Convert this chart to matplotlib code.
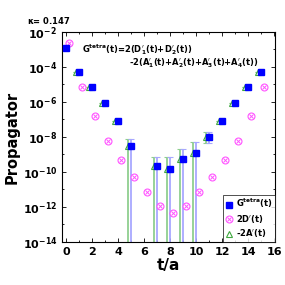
import numpy as np
import matplotlib
matplotlib.use('Agg')
import matplotlib.pyplot as plt
from matplotlib.lines import Line2D

plt.rcParams['font.family'] = 'DejaVu Sans'
plt.rcParams['font.weight'] = 'bold'
plt.rcParams['mathtext.fontset'] = 'dejavusans'
plt.rcParams['mathtext.default'] = 'bf'

# data
t = np.arange(16)
G = np.array([1.23e-3, 5.4e-5, 6.9e-6, 8.5e-7, 8.5e-8, 3.2e-9, np.nan, 2.3e-10,
              1.5e-10, 5.5e-10, 1.2e-9, 1.05e-8, 8.5e-8, 8.5e-7, 6.9e-6, 5.4e-5])
G_hi = np.array([1.23e-3, 5.4e-5, 6.9e-6, 8.5e-7, 8.5e-8, 7.4e-9, np.nan, 7.6e-10,
                 7.1e-10, 2.0e-9, 5.0e-9, 1.9e-8, 8.5e-8, 8.5e-7, 6.9e-6, 5.4e-5])
G_lo = np.array([1.23e-3, 5.4e-5, 6.9e-6, 8.5e-7, 8.5e-8, 1e-16, np.nan, 1e-16,
                 1e-16, 1e-16, 1e-16, 4.4e-9, 8.5e-8, 8.5e-7, 6.9e-6, 5.4e-5])
D2 = np.array([2.2e-3, 6.9e-6, 1.6e-7, 6.2e-9, 4.9e-10, 5.4e-11, 7.6e-12, 1.2e-12,
               4.8e-13, 1.2e-12, 7.6e-12, 5.4e-11, 4.9e-10, 6.2e-9, 1.6e-7, 6.9e-6])
A2 = np.array([np.nan, 5.4e-5, 6.9e-6, 8.5e-7, 8.5e-8, 3.2e-9, np.nan, 2.3e-10,
               1.5e-10, 5.5e-10, 1.2e-9, 1.05e-8, 8.5e-8, 8.5e-7, 6.9e-6, 5.4e-5])
A2_hi = G_hi.copy()
A2_lo = G_lo.copy()

pink = '#ff55ff'
green = '#3fa83f'

fig = plt.figure(figsize=(2.85, 2.85), dpi=100)
ax = fig.add_axes([0.2175, 0.151, 0.7475, 0.737])

# -2A'(t), shifted left
tg = t - 0.22
ax.errorbar(tg, A2, yerr=[A2 - A2_lo, A2_hi - A2], fmt='none', ecolor='#8fcf8f',
            elinewidth=1.3, capsize=2, capthick=0.8, zorder=2)
ax.plot(tg, A2, ls='none', marker='^', ms=4, mfc='none', mec=green, mew=0.8,
        zorder=3)

# Gtetra
ax.errorbar(t, G, yerr=[G - G_lo, G_hi - G], fmt='none', ecolor='#a8a8ff',
            elinewidth=1.3, capsize=2, capthick=0.8, zorder=2)
hG, = ax.plot(t, G, ls='none', marker='s', ms=5, color='#0000ff', zorder=4)

# 2D'(t), shifted right: circle with a cross inside
ax.plot(t + 0.2, D2, ls='none', marker='o', ms=5, mfc='white', mec=pink,
        mew=0.8, zorder=3)
ax.plot(t + 0.2, D2, ls='none', marker='x', ms=2.5, mec=pink, mew=0.7,
        zorder=3)

ax.set_yscale('log')
ax.set_ylim(1e-14, 1e-2)
ax.set_xlim(-0.3, 16.05)
ax.set_xticks(np.arange(0, 17, 2))
ax.set_xticks(np.arange(1, 16, 2), minor=True)
ax.set_yticks([10.0**k for k in range(-14, -1, 2)])
ax.set_yticks([10.0**k for k in range(-13, -2, 2)], minor=True)
ax.yaxis.set_minor_formatter(matplotlib.ticker.NullFormatter())
ax.tick_params(which='both', direction='in', top=True, right=True, labelsize=8,
               width=0.6)
ax.tick_params(which='major', length=3)
ax.tick_params(which='minor', length=1.5)
for s in ax.spines.values():
    s.set_linewidth(0.8)

ax.set_xlabel('t/a', fontsize=11, fontweight='bold', labelpad=1)
ax.set_ylabel('Propagator', fontsize=10.5, fontweight='bold', labelpad=2)

fig.text(0.095, 0.915, r'$\kappa$= 0.147', fontsize=6, fontweight='bold')
ax.text(0.095, 0.95, r"G$^{tetra}$(t)=2(D$^{\prime}_1$(t)+D$^{\prime}_2$(t))",
        transform=ax.transAxes, fontsize=6, va='top')
ax.text(0.315, 0.885,
        r"-2(A$^{\prime}_1$(t)+A$^{\prime}_2$(t)+A$^{\prime}_3$(t)+A$^{\prime}_4$(t))",
        transform=ax.transAxes, fontsize=6, va='top')

hD_leg = (Line2D([], [], ls='none', marker='o', ms=5, mfc='white', mec=pink, mew=0.8),
          Line2D([], [], ls='none', marker='x', ms=2.5, mec=pink, mew=0.7))
hA = Line2D([], [], ls='none', marker='^', ms=5, mfc='none', mec=green, mew=0.8)
leg = ax.legend([hG, hD_leg, hA],
                [r'G$^{tetra}$(t)', r"2D$^{\prime}$(t)", r"-2A$^{\prime}$(t)"],
                loc='lower right', fontsize=6, frameon=True, fancybox=False,
                handlelength=0.8, handletextpad=0.4, borderpad=0.3,
                labelspacing=0.3, borderaxespad=0.0)
leg.get_frame().set_edgecolor('black')
leg.get_frame().set_linewidth(0.6)

fig.savefig('out.png', dpi=100)
